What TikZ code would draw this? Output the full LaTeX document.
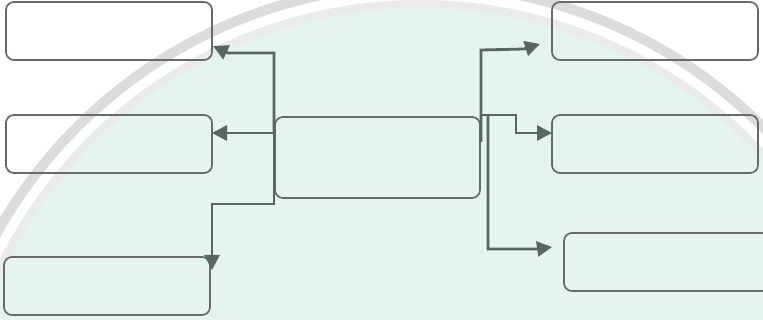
\documentclass[tikz,border=0pt]{standalone}
\usetikzlibrary{arrows.meta}
\definecolor{wmgreen}{RGB}{229,244,236}
\definecolor{wmgray}{RGB}{220,220,220}
\definecolor{wmlight}{RGB}{234,236,235}
\definecolor{boxline}{RGB}{102,106,104}
\definecolor{connline}{RGB}{88,102,96}
\tikzset{
  box/.style={draw=boxline, line width=1.7pt, rounded corners=8pt, inner sep=0pt, outer sep=0pt,
    minimum width=206pt, minimum height=58pt},
  conn/.style={draw=connline, line width=2.8pt, -{Triangle[length=15pt,width=15pt]}},
}
\begin{document}
\begin{tikzpicture}[x=1pt,y=-1pt]
\useasboundingbox (0,0) rectangle (763,320);
% faint background watermark
\begin{scope}
  \clip (0,0) rectangle (763,320);
  \fill[white] (0,0) rectangle (763,320);
  \fill[wmgreen] (420,470) circle (462pt);
  \draw[wmlight, line width=8pt] (420,470) circle (466pt);
  \draw[wmgray, line width=10pt] (420,470) circle (485pt);
\end{scope}
% boxes
\node[box] (tl) at (109,31) {};
\node[box] (ml) at (109,144) {};
\node[box] (bl) at (107,286) {};
\node[box, minimum width=205pt, minimum height=81pt] (c) at (377.5,157.5) {};
\node[box] (tr) at (655,31) {};
\node[box] (mr) at (655,144) {};
\node[box] (br) at (667,262) {};
% left junctions
\coordinate (lt) at (274,53);
\coordinate (lm) at (274,133);
\coordinate (lb) at (274,204);
\coordinate (lbb) at (212,204);
\coordinate (tlk) at (228,53);
\coordinate (tltip) at (213,46);
\coordinate (bltip) at (212,270);
% right junctions
\coordinate (rt) at (481,50);
\coordinate (rtb) at (481,142);
\coordinate (trk) at (524,49);
\coordinate (trtip) at (540,44);
\coordinate (rm0) at (480,115);
\coordinate (rm1) at (516,115);
\coordinate (rm2) at (516,133);
\coordinate (rb0) at (488,115);
\coordinate (rb1) at (488,249);
\coordinate (rbk) at (537,249);
\coordinate (rbtip) at (552,247);
% connectors
\draw[conn] (lm) -- (lt) -- (tlk) -- (tltip);
\draw[conn] (lm) -- (ml.east |- lm);
\draw[conn] (lm) -- (lb) -- (lbb) -- (bltip);
\draw[conn] (rtb) -- (rt) -- (trk) -- (trtip);
\draw[conn] (rm0) -- (rm1) -- (rm2) -- (mr.west |- rm2);
\draw[conn] (rb0) -- (rb1) -- (rbk) -- (rbtip);
\end{tikzpicture}
\end{document}
